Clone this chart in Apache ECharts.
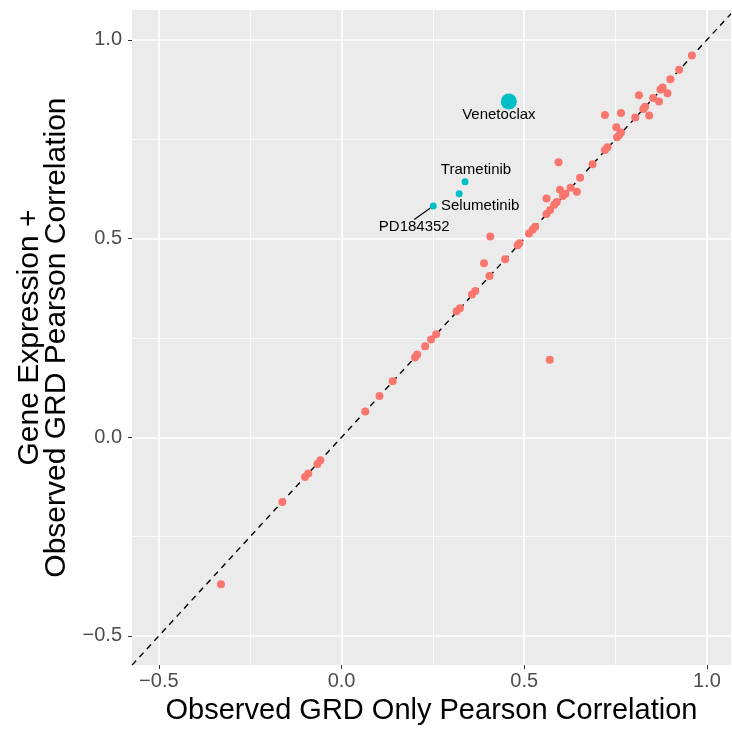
<!DOCTYPE html>
<html>
<head>
<meta charset="utf-8">
<script src="https://cdn.jsdelivr.net/npm/echarts@6/dist/echarts.min.js"></script>
<style>
html,body{margin:0;padding:0;background:#fff;}
#chart{width:732px;height:730px;}
</style>
</head>
<body>
<div id="chart"></div>
<script>
// Observed GRD only (x) vs Gene Expression + Observed GRD (y)
const grdOnly = [0.959,0.924,0.900,0.879,0.873,0.892,0.814,0.853,0.869,0.831,0.826,0.842,0.721,0.765,0.804,0.752,0.765,0.760,0.754,0.728,0.721,0.687,0.594,0.653,0.598,0.627,0.644,0.613,0.606,0.561,0.589,0.582,0.571,0.561,0.530,0.523,0.513,0.407,0.487,0.482,0.448,0.390,0.405,0.366,0.357,0.324,0.315,0.259,0.245,0.229,0.207,0.201,0.140,0.104,0.065,0.570,-0.058,-0.066,-0.091,-0.100,-0.162,-0.330];
const geGrd   = [0.961,0.925,0.901,0.880,0.875,0.866,0.861,0.854,0.845,0.832,0.826,0.810,0.811,0.816,0.805,0.780,0.767,0.761,0.755,0.730,0.723,0.687,0.692,0.653,0.623,0.628,0.618,0.613,0.607,0.601,0.592,0.585,0.572,0.562,0.530,0.522,0.513,0.505,0.488,0.483,0.448,0.438,0.406,0.368,0.359,0.325,0.317,0.259,0.246,0.229,0.208,0.201,0.141,0.104,0.065,0.195,-0.058,-0.067,-0.091,-0.100,-0.163,-0.370];

const drugNames = ['Venetoclax','Trametinib','Selumetinib','PD184352'];
const drugGrdOnly = [0.458,0.338,0.322,0.251];
const drugGeGrd = [0.845,0.643,0.613,0.582];
const drugSizes = [16,7,7,7];

const xTicks = [-0.5,0,0.5,1.0];
const yTicks = [-0.5,0,0.5,1.0];
const minorTicks = [-0.25,0.25,0.75];
const xMin = -0.5735, xMax = 1.066, yMin = -0.5734, yMax = 1.0753;

const labelOffsets = [[-10,13],[11,-12],[21,12],[-19,21]];

const FONT = 'Liberation Sans, Arial, Helvetica, sans-serif';
const fmt = v => (v < 0 ? '\u2212' : '') + Math.abs(v).toFixed(1);

const gridMarks = [];
xTicks.forEach(v => gridMarks.push({xAxis: v, lineStyle: {width: 1.7}}));
minorTicks.forEach(v => gridMarks.push({xAxis: v, lineStyle: {width: 0.8}}));
yTicks.forEach(v => gridMarks.push({yAxis: v, lineStyle: {width: 1.7}}));
minorTicks.forEach(v => gridMarks.push({yAxis: v, lineStyle: {width: 0.8}}));

const chart = echarts.init(document.getElementById('chart'), null, {renderer: 'canvas'});
chart.setOption({
  animation: false,
  backgroundColor: '#ffffff',
  textStyle: {fontFamily: FONT},
  grid: {left: 132, top: 10, width: 599, height: 657, show: true, backgroundColor: '#EBEBEB', borderWidth: 0, containLabel: false, z: 0},
  xAxis: {
    type: 'value', min: xMin, max: xMax,
    splitLine: {show: false},
    axisLine: {show: false, onZero: false},
    axisTick: {show: true, customValues: xTicks, length: 4, lineStyle: {color: '#333333', width: 1}},
    axisLabel: {customValues: xTicks, formatter: fmt, color: '#4D4D4D', fontSize: 20, margin: 6, fontFamily: FONT},
    name: 'Observed GRD Only Pearson Correlation',
    nameLocation: 'middle', nameGap: 30,
    nameTextStyle: {fontSize: 29, color: '#000', fontFamily: FONT}
  },
  yAxis: {
    type: 'value', min: yMin, max: yMax,
    splitLine: {show: false},
    axisLine: {show: false, onZero: false},
    axisTick: {show: true, customValues: yTicks, length: 4, lineStyle: {color: '#333333', width: 1}},
    axisLabel: {customValues: yTicks, formatter: fmt, color: '#4D4D4D', fontSize: 20, margin: 10, fontFamily: FONT},
    name: 'Gene Expression +\nObserved GRD Pearson Correlation',
    nameLocation: 'middle', nameGap: 62, nameRotate: 90,
    nameTextStyle: {fontSize: 30, color: '#000', lineHeight: 27, fontFamily: FONT, align: 'center'}
  },
  series: [
    {
      type: 'scatter', data: [], z: 1, silent: true,
      markLine: {silent: true, z: 1, zlevel: 0, symbol: 'none', label: {show: false}, animation: false,
        lineStyle: {color: '#FFFFFF', type: 'solid'}, data: gridMarks}
    },
    {
      type: 'line', z: 2, silent: true, symbol: 'none',
      data: [[xMin, xMin], [xMax, xMax]],
      lineStyle: {color: '#000000', width: 1.4, type: [6, 5]}
    },
    {
      type: 'scatter', z: 3, symbolSize: 8, silent: true,
      itemStyle: {color: '#F8766D', opacity: 1},
      data: grdOnly.map((x, i) => [x, geGrd[i]])
    },
    {
      type: 'scatter', z: 4, silent: true,
      itemStyle: {color: '#00BFC4', opacity: 1},
      data: drugNames.map((n, i) => ({
        name: n, value: [drugGrdOnly[i], drugGeGrd[i]], symbolSize: drugSizes[i],
        labelLine: {show: i === 3, lineStyle: {color: '#000', width: 1.1}}
      })),
      label: {show: true, position: 'inside', formatter: p => p.name, color: '#000', fontSize: 15, fontFamily: FONT},
      labelLayout: p => ({dx: labelOffsets[p.dataIndex][0], dy: labelOffsets[p.dataIndex][1]})
    }
  ]
});
</script>
</body>
</html>
